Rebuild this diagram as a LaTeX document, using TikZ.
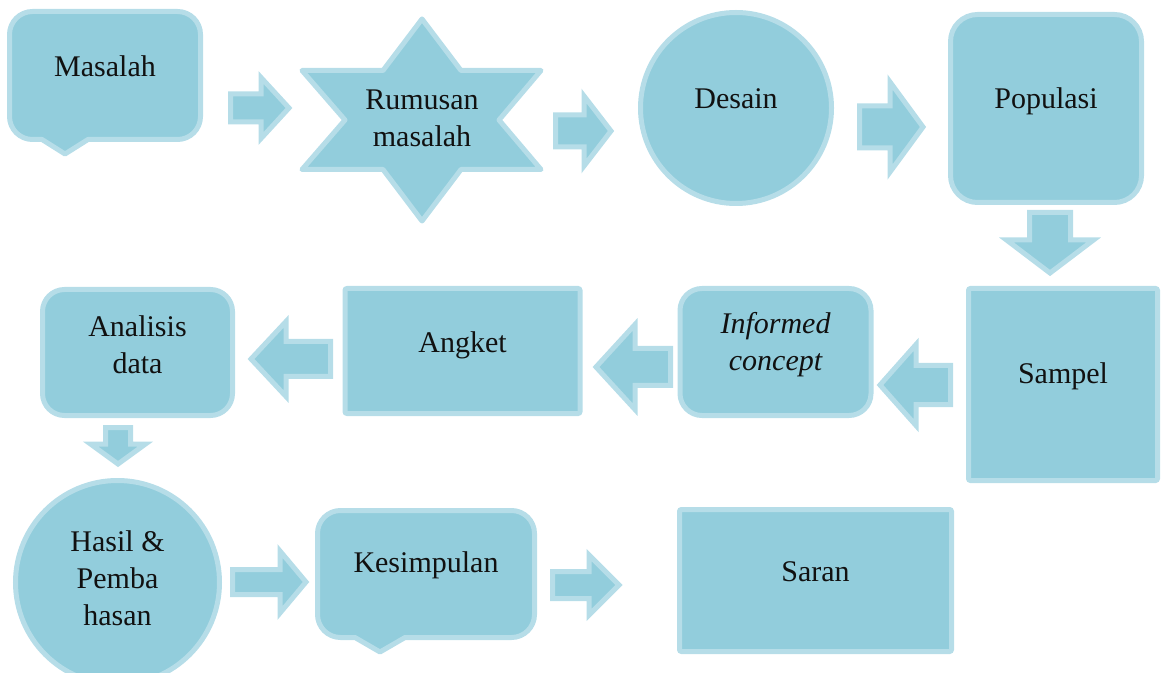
\documentclass[tikz,border=0pt]{standalone}
\usepackage{fontspec}
\setmainfont{Liberation Serif}
\usepackage{tikz}
\usetikzlibrary{positioning}
\tikzset{
  block/.style={rectangle, draw=rim, fill=body, line width=2.5pt, rounded corners=1pt, inner sep=0pt},
  roundblock/.style={block, rounded corners=11pt},
  disc/.style={circle, draw=rim, fill=body, line width=2.5pt, inner sep=0pt},
  shapeline/.style={draw=rim, fill=body, line width=2.5pt, line join=round},
  fatarr/.style={draw=rim, fill=body, line width=2.5pt, line join=miter},
  txt/.style={font=\fontsize{15}{18.5}\selectfont, text=ink, align=center, inner sep=0pt},
}
\definecolor{body}{HTML}{92CDDC}
\definecolor{rim}{HTML}{B6DDE8}
\definecolor{ink}{HTML}{111111}
% block arrows: centre, tail, head base, tip, shaft half, head half
\newcommand{\fatarrow}[6]{%
  \path[fatarr] (#2,#1-#5) -- (#3,#1-#5) -- (#3,#1-#6) -- (#4,#1) -- (#3,#1+#6) -- (#3,#1+#5) -- (#2,#1+#5) -- cycle;}
\newcommand{\fatarrowdown}[6]{%
  \path[fatarr] (#1-#5,#2) -- (#1-#5,#3) -- (#1-#6,#3) -- (#1,#4) -- (#1+#6,#3) -- (#1+#5,#3) -- (#1+#5,#2) -- cycle;}

\begin{document}
\begin{tikzpicture}[x=0.5pt, y=-0.5pt]
    \useasboundingbox (0,0) rectangle (1161,673);
    \clip (0,0) rectangle (1161,673);

    %% --- top row ---
    \path[shapeline] (65,154) -- (88,139.5) -- (177.5,139.5) .. controls (190.2,139.5) and (200.5,129.2) .. (200.5,116.5)
      -- (200.5,34.5) .. controls (200.5,21.8) and (190.2,11.5) .. (177.5,11.5)
      -- (32.5,11.5) .. controls (19.8,11.5) and (9.5,21.8) .. (9.5,34.5)
      -- (9.5,116.5) .. controls (9.5,129.2) and (19.8,139.5) .. (32.5,139.5) -- (42,139.5) -- cycle;
    \node[txt] (masalah) at (105,66) {Masalah};
    \fatarrow{108}{230.5}{261}{289}{14}{30.5}

    \path[shapeline] (422,19) -- (461,70.5) -- (541,70.5) -- (499,120) -- (541,169.5) -- (461,169.5)
      -- (422,221) -- (383,169.5) -- (302,169.5) -- (345,120) -- (302,70.5) -- (383,70.5) -- cycle;
    \node[txt] (rumusan) at (422,118) {Rumusan\\masalah};
    \fatarrow{131}{555.5}{584}{611}{16}{35}

    \node[disc, minimum size=95.5pt] (desain) at (736,108) {};
    \node[txt] (desain_txt) at ([yshift=4.5pt]desain.center) {Desain};
    \fatarrow{127}{859.5}{890}{923}{21}{45}

    \node[roundblock, rounded corners=13.5pt, minimum width=95.5pt, minimum height=94pt] (populasi) at (1046,108.5) {};
    \node[txt] (populasi_txt) at ([yshift=3.75pt]populasi.center) {Populasi};
    \fatarrowdown{1050}{212.5}{240}{273}{20.5}{43.5}

    %% --- middle row (right to left) ---
    \node[block, minimum width=94.5pt, minimum height=96pt] (sampel) at (1063,384.5) {};
    \node[txt] (sampel_txt) at ([yshift=4pt]sampel.center) {Sampel};
    \fatarrow{385}{950.5}{916}{880}{19.5}{40.5}

    \node[roundblock, minimum width=95.5pt, minimum height=63.5pt] (informed) at (775.5,352) {};
    \node[txt] (informed_txt) at ([yshift=3.5pt]informed.center) {\itshape Informed\\\itshape concept};
    \fatarrow{367}{670.5}{635}{596}{18.5}{42.5}

    \node[block, minimum width=117.5pt, minimum height=62.5pt] (angket) at (462.5,351) {};
    \node[txt] (angket_txt) at ([yshift=3pt]angket.center) {Angket};
    \fatarrow{359}{330.5}{286}{251}{17.5}{37.5}

    \node[roundblock, minimum width=95pt, minimum height=63pt] (analisis) at (137.5,352.5) {};
    \node[txt] (analisis_txt) at ([yshift=3.75pt]analisis.center) {Analisis\\data};
    \fatarrowdown{118}{427.5}{444}{464}{12.5}{27.5}

    %% --- bottom row ---
    \node[disc, minimum size=102pt] (hasil) at (117.5,582.5) {};
    \node[txt] (hasil_txt) at ([yshift=2.25pt]hasil.center) {Hasil \&\\Pemba\\hasan};
    \fatarrow{582}{232.5}{280}{306}{12.5}{31}

    \path[shapeline] (380,652) -- (405,637.5) -- (511.5,637.5) .. controls (524.2,637.5) and (534.5,627.2) .. (534.5,614.5)
      -- (534.5,533.5) .. controls (534.5,520.8) and (524.2,510.5) .. (511.5,510.5)
      -- (340.5,510.5) .. controls (327.8,510.5) and (317.5,520.8) .. (317.5,533.5)
      -- (317.5,614.5) .. controls (317.5,627.2) and (327.8,637.5) .. (340.5,637.5) -- (355,637.5) -- cycle;
    \node[txt] (kesimpulan) at (426,565) {Kesimpulan};
    \fatarrow{585}{552.5}{589}{619}{13.5}{30}

    \node[block, minimum width=136pt, minimum height=71pt] (saran) at (815.5,580.5) {};
    \node[txt] (saran_txt) at ([yshift=4.25pt]saran.center) {Saran};
  \end{tikzpicture}
\end{document}
